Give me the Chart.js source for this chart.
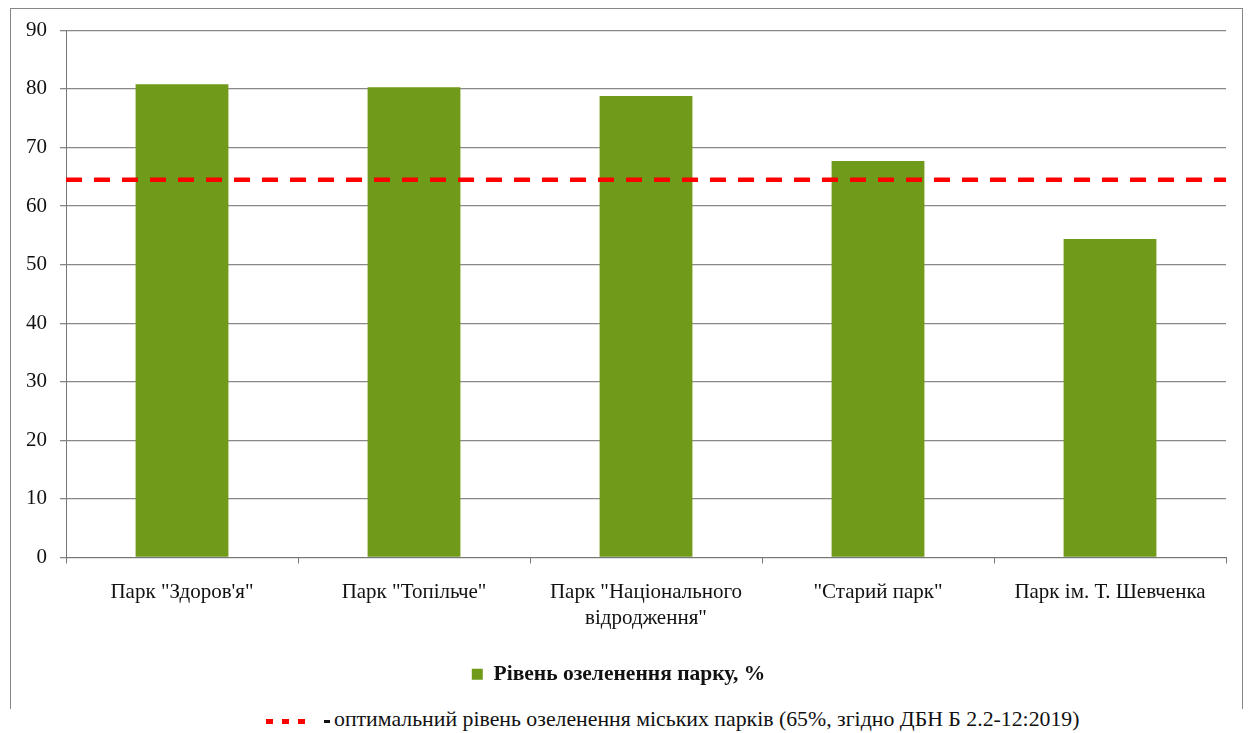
<!DOCTYPE html>
<html>
<head>
<meta charset="utf-8">
<script src="https://cdn.jsdelivr.net/npm/chart.js@4.4.0/dist/chart.umd.min.js"></script>
<style>
  body { margin: 0; background: #fff; width: 1248px; height: 733px; overflow: hidden; position: relative; }
  #box { position: absolute; left: 10px; top: 8px; width: 1231px; height: 700px; border: 1px solid #868686; border-bottom: none; }
  #wrap { position: absolute; left: 0; top: 0; width: 1231px; height: 690px; }
  #note { position: absolute; left: 266px; top: 707px; white-space: nowrap; font-family: "Liberation Serif", serif; font-size: 21.8px; color: #111; }
  #note .sq { display: inline-block; width: 7px; height: 5px; background: #ff0000; margin-right: 9px; vertical-align: middle; }
  #note .bd { display: inline-block; width: 6px; height: 3px; background: #111; margin: 0 4px 0 10px; vertical-align: middle; }
</style>
</head>
<body>
<div id="box"><div id="wrap"><canvas id="myChart"></canvas></div></div>
<div id="note"><span class="sq"></span><span class="sq"></span><span class="sq"></span><span class="bd"></span>оптимальний рівень озеленення міських парків (65%, згідно ДБН Б 2.2-12:2019)</div>
<script>
const parks = [
  'Парк "Здоров\'я"',
  'Парк "Топільче"',
  ['Парк "Національного', 'відродження"'],
  '"Старий парк"',
  'Парк ім. Т. Шевченка'
];
const greening = [80.8, 80.3, 78.8, 67.7, 54.4];
const optimalLevel = 64.5;
const yTicks = [0, 10, 20, 30, 40, 50, 60, 70, 80, 90];

const serif = '"Liberation Serif", "Times New Roman", serif';

var ctx = document.getElementById('myChart').getContext('2d');
var chart = new Chart(ctx, {
  type: 'bar',
  data: {
    labels: parks,
    datasets: [
      {
        type: 'bar',
        label: 'Рівень озеленення парку, %',
        data: greening,
        backgroundColor: '#6f9a1a',
        grouped: false,
        barPercentage: 0.8,
        categoryPercentage: 0.5,
        order: 2
      },
      {
        type: 'line',
        label: 'optimal',
        xAxisID: 'xLine',
        data: [{x: 0, y: optimalLevel}, {x: 1, y: optimalLevel}],
        borderColor: '#ff0000',
        borderWidth: 4.5,
        borderDash: [16, 12],
        pointRadius: 0,
        order: 1
      }
    ]
  },
  options: {
    responsive: true,
    maintainAspectRatio: false,
    animation: false,
    layout: { padding: { top: 21, right: 16, left: 0, bottom: 4 } },
    plugins: {
      tooltip: { enabled: false },
      legend: {
        position: 'bottom',
        labels: {
          filter: (item) => item.datasetIndex === 0,
          boxWidth: 11,
          boxHeight: 11,
          color: '#111',
          padding: 10,
          font: { family: serif, size: 21.5, weight: 'bold' }
        }
      }
    },
    scales: {
      x: {
        type: 'category',
        grid: { offset: true, drawOnChartArea: false, color: '#777', tickLength: 6 },
        border: { color: '#777', width: 1 },
        ticks: { color: '#111', font: { family: serif, size: 21, lineHeight: 1.25 }, padding: 16, maxRotation: 0, autoSkip: false },
        afterFit: (scale) => { scale.height = 96; }
      },
      xLine: {
        type: 'linear',
        display: false,
        offset: false,
        min: 0,
        max: 1
      },
      y: {
        min: 0,
        max: 90,
        afterBuildTicks: (scale) => { scale.ticks = yTicks.map(v => ({ value: v })); },
        grid: { color: '#888', lineWidth: 1.3, tickLength: 6 },
        border: { color: '#777', width: 1 },
        ticks: { color: '#111', font: { family: serif, size: 21, lineHeight: 0.8 }, padding: 13 },
        afterFit: (scale) => { scale.width = 55; }
      }
    }
  }
});
</script>
</body>
</html>
